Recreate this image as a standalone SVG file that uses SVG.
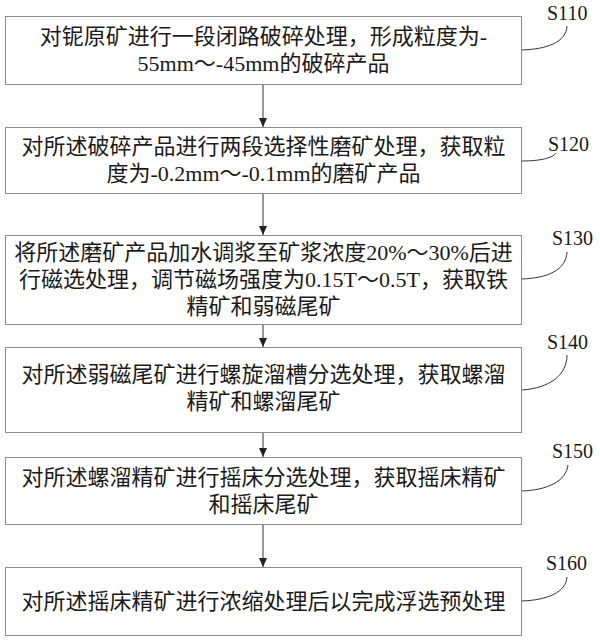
<svg xmlns="http://www.w3.org/2000/svg" width="600" height="641" viewBox="0 0 600 641">
<style>
.box{fill:#fff;stroke:#8c8c8c;stroke-width:1}
.t{font-family:"Liberation Serif","Noto Sans CJK SC",serif;font-size:22px;fill:#1a1a1a;text-anchor:middle}
.lbl{font-family:"Liberation Serif",serif;font-size:20px;fill:#1a1a1a}
.lead{fill:none;stroke:#333;stroke-width:1}
.conn{stroke:#333;stroke-width:1;fill:none}
</style>
<defs>
<marker id="ah" markerUnits="userSpaceOnUse" markerWidth="10" markerHeight="11" refX="9" refY="5" orient="auto">
<path d="M0,1 L9,5 L0,9 Z" fill="#222"/>
</marker>
</defs>
<rect width="600" height="641" fill="#fff"/>
<g id="connectors">
<line class="conn" x1="263" y1="85" x2="263" y2="127" marker-end="url(#ah)"/>
<line class="conn" x1="263" y1="194" x2="263" y2="235" marker-end="url(#ah)"/>
<line class="conn" x1="263" y1="325" x2="263" y2="347" marker-end="url(#ah)"/>
<line class="conn" x1="263" y1="433" x2="263" y2="457" marker-end="url(#ah)"/>
<line class="conn" x1="263" y1="525" x2="263" y2="567" marker-end="url(#ah)"/>
</g>
<g id="s110">
<rect class="box" x="5.5" y="16.5" width="516" height="68"/>
<text class="t" x="263.5" y="44">对铌原矿进行一段闭路破碎处理，形成粒度为-</text>
<text class="t" x="263.5" y="71">55mm～-45mm的破碎产品</text>
<path class="lead" d="M522,50 C548,49 566,42 567,26"/>
<text class="lbl" x="547" y="20">S110</text>
</g>
<g id="s120">
<rect class="box" x="5.5" y="127.5" width="516" height="66"/>
<text class="t" x="263.5" y="154">对所述破碎产品进行两段选择性磨矿处理，获取粒</text>
<text class="t" x="263.5" y="181">度为-0.2mm～-0.1mm的磨矿产品</text>
<path class="lead" d="M522,161 C540,161 553,158 556,153"/>
<text class="lbl" x="548" y="151">S120</text>
</g>
<g id="s130">
<rect class="box" x="5.5" y="235.5" width="516" height="89"/>
<text class="t" x="263.5" y="260">将所述磨矿产品加水调浆至矿浆浓度20%～30%后进</text>
<text class="t" x="263.5" y="287">行磁选处理，调节磁场强度为0.15T～0.5T，获取铁</text>
<text class="t" x="263.5" y="314">精矿和弱磁尾矿</text>
<path class="lead" d="M522,279 C548,278 566,270 567,252"/>
<text class="lbl" x="552" y="245">S130</text>
</g>
<g id="s140">
<rect class="box" x="5.5" y="347.5" width="516" height="85"/>
<text class="t" x="263.5" y="382">对所述弱磁尾矿进行螺旋溜槽分选处理，获取螺溜</text>
<text class="t" x="263.5" y="409">精矿和螺溜尾矿</text>
<path class="lead" d="M522,390 C550,388 567,375 567,355"/>
<text class="lbl" x="547" y="349">S140</text>
</g>
<g id="s150">
<rect class="box" x="5.5" y="457.5" width="516" height="67"/>
<text class="t" x="263.5" y="485">对所述螺溜精矿进行摇床分选处理，获取摇床精矿</text>
<text class="t" x="263.5" y="512">和摇床尾矿</text>
<path class="lead" d="M522,491 C548,490 566,481 568,465"/>
<text class="lbl" x="552" y="458">S150</text>
</g>
<g id="s160">
<rect class="box" x="5.5" y="567.5" width="516" height="68"/>
<text class="t" x="263.5" y="609">对所述摇床精矿进行浓缩处理后以完成浮选预处理</text>
<path class="lead" d="M522,601 C548,600 566,592 567,577"/>
<text class="lbl" x="546" y="570">S160</text>
</g>
</svg>
